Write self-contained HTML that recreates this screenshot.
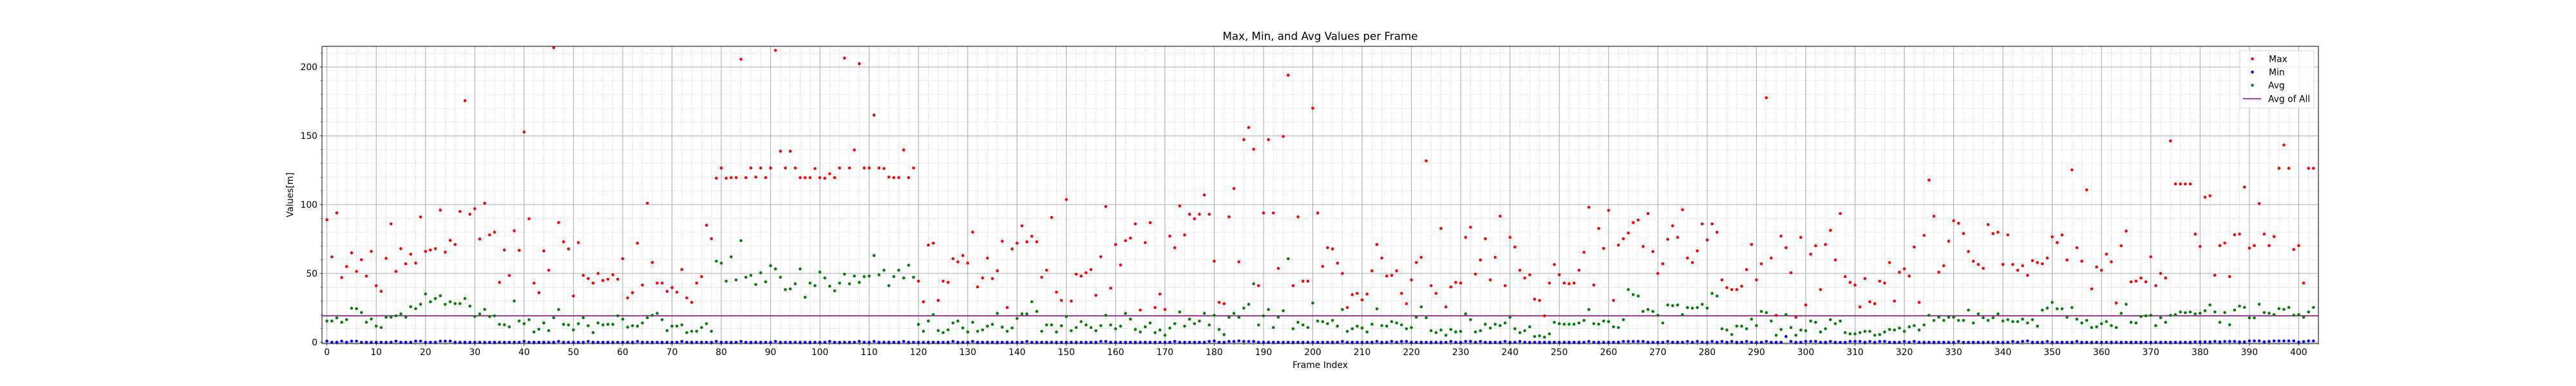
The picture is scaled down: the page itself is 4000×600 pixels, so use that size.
<!DOCTYPE html>
<html><head><meta charset="utf-8"><title>Max, Min, and Avg Values per Frame</title>
<style>
html,body{margin:0;padding:0;background:#fff;}
svg{display:block;font-family:"DejaVu Sans","Liberation Sans",sans-serif;}
</style></head>
<body>
<svg id="chart" xmlns="http://www.w3.org/2000/svg" width="4000" height="600" viewBox="0 0 4000 600">
<rect x="0" y="0" width="4000" height="600" fill="#fff"/>
<g id="grid"></g>
<g id="marks"></g>
<g id="axes"></g>
<text x="2050" y="62" text-anchor="middle" font-size="16.7" fill="#000">Max, Min, and Avg Values per Frame</text>
<text x="2050" y="572" text-anchor="middle" font-size="13.9" fill="#000">Frame Index</text>
<text x="455" y="303" text-anchor="middle" font-size="13.9" fill="#000" transform="rotate(-90 455 303)">Values[m]</text>
<g id="legend">
<rect x="3478" y="79" width="115" height="89" rx="3" fill="#fff" fill-opacity="0.8" stroke="#d8d8d8"/>
<g><circle cx="3497.5" cy="91.5" r="2.3" fill="#ff0000"/><text x="3523" y="96.5" font-size="13.9">Max</text></g>
<g><circle cx="3497.5" cy="112" r="2.3" fill="#0000ff"/><text x="3523" y="117" font-size="13.9">Min</text></g>
<g><circle cx="3497.5" cy="132.5" r="2.3" fill="#008000"/><text x="3522" y="137.5" font-size="13.9">Avg</text></g>
<g><line x1="3483" y1="153.5" x2="3511" y2="153.5" stroke="#800080" stroke-width="1.5"/><text x="3522" y="158.5" font-size="13.9">Avg of All</text></g>
</g>
</svg>
<script>
const maxValues = [89,62,94,47,55,65,51.5,60,48,66,41,37,61,86,51.5,68,57,64,57.5,91,66,67,68,96,65.5,74,71,95,175.5,93,97,75,101,78,80,43.5,67,48.5,81,
66.8,152.8,89.7,43,36,66.4,52.3,214,87,73,67.8,33.6,72.4,48.6,46.3,43,50,44.9,45.8,49,45.8,60.7,32.2,36,72,41.6,101,58,43,43,37,39.7,36.4,52.8,32.2,29,
43,47.7,85,75.2,119.2,126.6,119.2,119.6,119.6,205.6,119.6,126.6,120,126.6,119.6,126.6,212,138.8,126.6,138.8,126.6,119.6,119.6,119.6,126.2,119.6,119.2,122.4,119.6,126.6,206.5,126.6,139.7,202.3,126.6,126.6,165,126.6,
126.2,120,119.6,119.6,139.7,119.6,126.6,44.4,29.4,70.6,72,30.4,44.4,43.5,60.7,58.4,63,57.5,80,40.2,46.7,61.2,46.3,51.9,73.4,25.2,67.8,72,84.6,73,77,73,47.2,52.3,90.7,36.4,30.4,
103.7,29.9,49.5,48.1,50.5,52.8,34.1,62.1,98.6,39.3,71,56.1,73.8,75.7,86,23.4,72.4,86.9,25.2,35,23.8,77.1,68.7,99,78,93,89.7,93,107,93,58.9,29,28,91.1,111.7,58.4,147.2,156,
140.2,41.1,93.9,147.2,93.9,53.7,149.5,194,41.1,91.1,44.4,44.4,170,93.9,55.1,68.7,67.8,57.5,50,25.2,34.6,35.5,30.8,35,51.9,71,61.2,48.1,48.6,51.9,35.5,28,45.3,58,61.7,131.8,41.1,35.5,
82.7,25.7,40.2,43.5,43,76.2,83.6,49.5,59.8,75.2,45.3,61.7,91.6,41.1,76.2,69.2,52.3,46.7,49,31.3,30.4,19.2,43,56.5,49,43,42.5,43,52.3,65.4,98.1,41.6,82.7,68.2,95.8,30.4,70.6,75.2,
79.4,86.9,88.8,69.6,93.5,65.9,50,57,74.8,84.6,76.2,96.3,61.2,57.9,66.4,86,74.3,86,79.9,45.3,39.7,38.3,38.3,40.7,52.8,71,45.3,57,177.6,61.2,19.6,77.1,68.7,50.5,18.2,76.2,27.1,64,
70.1,38.3,71,81.3,59.8,93.5,47.7,43.5,41.6,25.7,46.3,29.4,28,44.4,43,57.9,29.9,50.9,53.3,48.1,69.2,29,77.6,117.8,91.6,50.9,55.6,73.4,88.3,86.4,79,65.9,58.9,56.5,53.7,85.5,79,79.9,
56.5,78,56.5,52.3,55.6,48.6,59.3,57.9,57,61.2,76.6,72.4,78,59.8,125.2,68.7,58.9,110.7,38.8,54.7,52.3,64,58.4,28.5,70.1,80.8,43.9,44.4,46.7,43.9,62.1,41.1,50,46.7,146.3,115,115,115,
115,78.6,69.6,105.4,106.4,48.7,70.2,72.1,47.7,78.1,78.6,112.7,68.4,70.2,100.7,78.6,70.2,76.8,126.4,143.3,126.4,67.4,70.2,43,126.4,126.4];

const avgValues = [15.4,15.4,17.7,14.5,16.4,24.7,24.4,21.6,14.5,16.9,11.7,10.7,18.2,18.2,19.2,20.6,18.2,25.8,24.4,27.6,35.1,29.4,31.8,33.8,27.6,29.4,28.1,28.1,31.8,26.3,18.7,20.6,23.9,18.7,19.2,13,12.7,11.2,30,
15.4,13.5,16.4,7.5,9.5,14,8.5,17.8,23.8,13,12.6,9,13.5,17.8,12,7,14,12.6,13,13,19.2,16.8,11,12,11.7,14,17.8,19.6,21,16.4,8.5,11.7,11.7,12.6,7,8,
8,10.7,13.5,8,58.9,57.5,44.4,62,45.3,73.8,47.2,48.6,42,50.5,43.9,55.6,53.3,47.2,38.3,38.8,42.5,53.3,32.7,43,41.1,51,46.7,40.7,37.4,43,49.5,42.5,48.1,43.5,47.7,48.1,63,49,
52.3,41.1,47.7,52.3,46.7,56,47.2,13,8,15.4,20,8.5,7,9,14,15.4,10.4,7.5,14.5,8,9,11.7,13,21,11,8,10.4,17.3,20.6,20.6,29.4,22.4,8,12.6,12.6,7.5,12,
18.7,8.4,10.7,15,12.6,10.7,8.4,12.1,19.6,12.6,9.8,11.7,21,16.8,9.3,7.5,11.2,14,7,8.9,5.1,10.3,13.5,22,11.7,16.8,13.5,15.4,21,12.6,19.6,9.3,5.6,18.2,21,18.2,24.8,27.6,
42.5,12.6,19.2,23.8,10.7,18.2,22.9,60.7,9.8,14.5,12.6,10.7,28.5,15.4,15,13.5,15.9,11.7,23.8,7.9,9.8,11.7,10.3,7.5,13.1,24.3,12.1,11.7,15,14,12.6,9.8,10.7,18.2,25.7,17.8,8.4,7,
8.9,5.1,9.3,7.5,7.9,20.6,16.4,7.5,8.4,13.1,10.3,13.1,12.1,14,18.2,9.8,7,8.4,11.2,4.2,4.7,3.7,6.1,14.5,13.5,13.1,13.1,13.1,14,15.9,23.8,13.5,13.1,15.4,15,11.2,10.7,16.4,
38.3,34.6,33.6,22.4,23.8,22.4,19.6,14,27.1,26.6,27.1,20.1,25.2,24.8,25.2,27.6,24.8,35.5,33.6,9.8,8.9,5.6,11.7,11.7,9.8,16.8,12.1,22.4,21.5,15.4,5.1,9.3,20.1,10.7,5.1,8.9,8.4,15.4,
14.5,7.5,9.8,16.4,13.5,15.4,7,6.1,6.1,7,7.9,7.9,5.1,5.6,7.5,9.3,8.9,10.3,7.9,11.2,12.1,8.9,12.6,19.6,15.9,18.2,15.9,18.2,18.2,15.9,15.9,23.4,14,20.6,17.8,15.9,17.8,20.6,
15.4,16.4,15,15,16.8,14,16.4,11.7,23.4,24.8,29,24.3,24.3,18.2,25.2,16.8,14,15.9,10.7,11.2,13.5,15,12.1,10.7,21,27.6,14.5,14,18.7,19.2,19.6,12.1,17.8,14.5,19.6,20.1,22,21.5,
22,20.6,21.1,22.9,27.1,22,14.5,21.6,12.7,23.4,26.3,25.3,17.7,17.7,27.6,21.6,21.1,20.1,24.4,23.9,25.3,19.7,20.1,18.2,22,25.3];

const minValues = [0.8,0,0,0.8,0,0.8,0.8,0,0,0,0,0,0,0,0.8,0,0,0,0.8,0.8,
0,0,0,0.8,0.8,0.8,0,0,0,0,0,0,0,0,0,0,0,0,0,0,
0.6,0,0,0,0,0,0,0.6,0,0,0,0,0,0.6,0,0,0,0,0,0,
0,0,0,0.6,0,0,0,0,0,0,0,0,0.6,0,0,0,0,0,0,0.6,
0,0,0,0,0.6,0,0,0,0,0,0,0.6,0,0,0,0,0,0,0,0,
0,0,0.6,0,0,0,0,0,0.6,0,0,0.6,0,0,0,0,0,0.6,0,0,
0,0,0,0,0,0,0,0.6,0,0,0,0.6,0,0,0,0,0,0,0,0,
0,0,0.6,0,0,0,0,0,0,0,0,0,0,0,0,0,0,0.6,0.6,0,
0,0,0,0,0,0,0,0,0,0,0,0,0.6,0,0,0,0,0,0,0.6,
1,0,0,0.6,0.6,1,0.6,0.6,0.6,0,0,0,0,0,0,0,0,0,0,0,
0,0,0,0,0,0,0.6,0,0,0,0,0,0,0.6,0,0,0.6,0,0.6,0.6,
0,0,0,0,0,0,0,0,0.6,0,0,0.6,0.6,0,0.6,0,0,0,0,0.6,
0,0,0.6,0,0,0,0,0,0,0,0,0,0,0,0,0,0.6,0,0,0,
0,0,0,0.6,0.6,0.6,0.6,0.6,0,0,0,0,0.6,0,0,0,0.6,0,0.6,0,
0,0.6,0,0.6,0,0.6,0,0,0.6,0,0,0,0.6,0,0,0,4.2,0.6,0,0,
0.6,0.6,0.6,0,0,0.6,0,0,0,0.6,0.6,0.6,0,0.6,0,0.6,0.6,0,0,0,
0.6,0,0.6,0,0,0,0,0,0,0,0,0.6,0,0,0,0,0,0,0,0,
0,0,0.6,0,0.6,1,0,0,0,0.6,0,0,0,0,0,0.6,0,0,0,0,
0,0,0,0,0,0,0,0,0,0,0,0,0,0,0,0,0,0,0,0.3,
0.3,0.3,0.3,0.6,0.3,0.6,0.6,0.6,0.3,0.3,1,1,1,0.3,0.6,1,1,1,1,1,
0.2,0.5,1,1];

const avgOfAll = 19.2;
const xTickLabels = [0,10,20,30,40,50,60,70,80,90,100,110,120,130,140,150,160,170,180,190,200,210,220,230,240,250,260,270,280,290,300,310,320,330,340,350,360,370,380,390,400];
const yTickLabels = [0,50,100,150,200];

const NS = "http://www.w3.org/2000/svg";
const PL = 500, PR = 3600, PT = 72, PB = 534;
const XMIN = -1, XMAX = 404, YMIN = -0.93, YMAX = 215;
function xs(v){ return PL + (v - XMIN) / (XMAX - XMIN) * (PR - PL); }
function ys(v){ return PB - (v - YMIN) / (YMAX - YMIN) * (PB - PT); }
function mk(tag, attrs, parent){
  const e = document.createElementNS(NS, tag);
  for (const k in attrs) e.setAttribute(k, attrs[k]);
  parent.appendChild(e);
  return e;
}
const grid = document.getElementById('grid');
const marks = document.getElementById('marks');
const axes = document.getElementById('axes');

// minor grid
for (let v = 0; v <= 404; v += 2) {
  if (v % 10 === 0) continue;
  const l = mk('line', {x1: xs(v), x2: xs(v), y1: PT, y2: PB, stroke: '#cfcfcf', 'stroke-width': 0.8, 'stroke-dasharray': '1.5,1.5'}, grid);
  
  
  const t = mk('line', {x1: xs(v), x2: xs(v), y1: PB, y2: PB + 2, stroke: '#000', 'stroke-width': 0.6}, axes);
  
  
}
for (let v = 10; v <= 210; v += 10) {
  if (v % 50 === 0) continue;
  const l = mk('line', {x1: PL, x2: PR, y1: ys(v), y2: ys(v), stroke: '#cfcfcf', 'stroke-width': 0.8, 'stroke-dasharray': '1.5,1.5'}, grid);
  
  
  const t = mk('line', {x1: PL - 2, x2: PL, y1: ys(v), y2: ys(v), stroke: '#000', 'stroke-width': 0.6}, axes);
  
  
}
// major grid + labels
xTickLabels.forEach(function(v){
  const l = mk('line', {x1: xs(v), x2: xs(v), y1: PT, y2: PB, stroke: '#a8a8a8', 'stroke-width': 1}, grid);
  
  
  const t = mk('line', {x1: xs(v), x2: xs(v), y1: PB, y2: PB + 3.5, stroke: '#000', 'stroke-width': 0.8}, axes);
  
  
  const tx = mk('text', {x: xs(v), y: PB + 18, 'text-anchor': 'middle', 'font-size': 13.9, fill: '#000'}, axes);
  tx.textContent = String(v);
  
  
});
yTickLabels.forEach(function(v){
  const l = mk('line', {x1: PL, x2: PR, y1: ys(v), y2: ys(v), stroke: '#a8a8a8', 'stroke-width': 1}, grid);
  
  
  const t = mk('line', {x1: PL - 3.5, x2: PL, y1: ys(v), y2: ys(v), stroke: '#000', 'stroke-width': 0.8}, axes);
  
  
  const tx = mk('text', {x: PL - 7, y: ys(v) + 5, 'text-anchor': 'end', 'font-size': 13.9, fill: '#000'}, axes);
  tx.textContent = String(v);
  
  
});
// frame
const fr = mk('rect', {x: PL, y: PT, width: PR - PL, height: PB - PT, fill: 'none', stroke: '#000', 'stroke-width': 1}, axes);



// avg of all line
const al = mk('line', {x1: PL, x2: PR, y1: ys(avgOfAll), y2: ys(avgOfAll), stroke: '#800080', 'stroke-width': 1.5}, marks);



function series(vals, color, name){
  vals.forEach(function(v, i){
    const c = mk('circle', {cx: xs(i), cy: ys(v), r: 2.3, fill: color}, marks);
    
    
  });
}
series(maxValues, '#ff0000', 'max-point');
series(minValues, '#0000ff', 'min-point');
series(avgValues, '#008000', 'avg-point');
</script>
</body></html>
